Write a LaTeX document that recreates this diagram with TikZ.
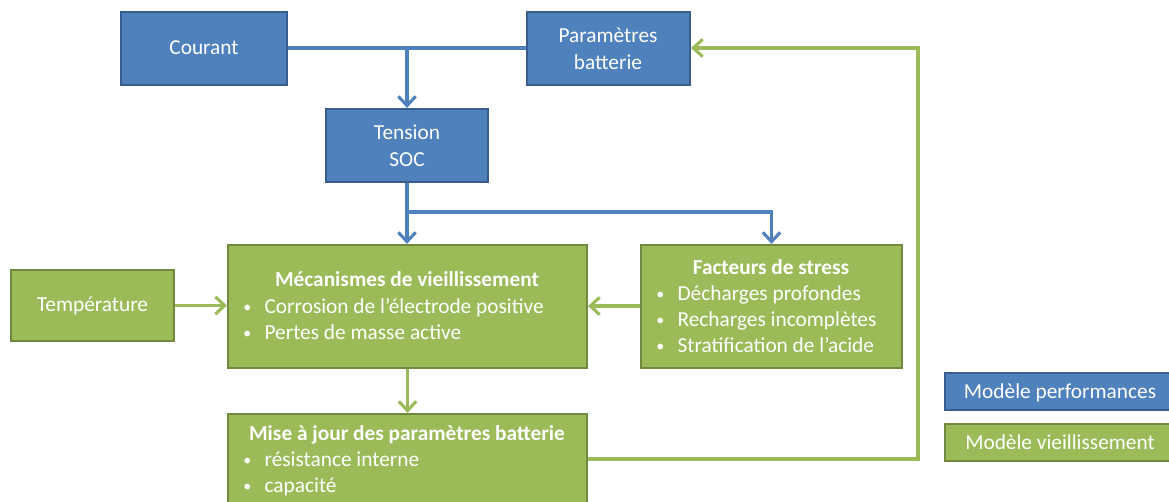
\documentclass[tikz,border=0pt]{standalone}
\usepackage{fontspec}
\setmainfont{Carlito}
\usetikzlibrary{arrows.meta,fit}
\definecolor{bfill}{HTML}{4F81BD}
\definecolor{bdraw}{HTML}{385D8A}
\definecolor{gfill}{HTML}{9BBB59}
\definecolor{gdraw}{HTML}{71893F}
\newcommand\bul{\makebox[16pt][l]{\raisebox{0.5pt}{\fontsize{12}{12}\selectfont•}}}
\begin{document}
\begin{tikzpicture}[x=0.75pt,y=-0.75pt,
  bbox/.style={draw=bdraw,fill=bfill,line width=1.6pt,inner sep=0pt},
  gbox/.style={draw=gdraw,fill=gfill,line width=1.6pt,inner sep=0pt},
  txt/.style={text=white,inner sep=0pt,font=\fontsize{16}{19.5}\selectfont,text height=11.5pt,text depth=2.5pt},
  ttl/.style={txt,font=\fontsize{16}{19.5}\selectfont\bfseries},
  mtxt/.style={text=white,inner sep=0pt,font=\fontsize{16}{20}\selectfont,align=center},
  bline/.style={draw=bfill,line width=2.3pt},
  gline/.style={draw=gfill,line width=2.3pt},
  barrow/.style={bline,-{Straight Barb[length=7pt,width=13pt,line width=2.3pt]}},
  garrow/.style={gline,-{Straight Barb[length=7pt,width=13pt,line width=2.3pt]}}]
\useasboundingbox (0,0) rectangle (1169,502);
% boxes
\node[bbox,fit={(121,12) (287,85)}] (cour) {};
\node[bbox,fit={(527,12) (690,85)}] (par) {};
\node[bbox,fit={(326,109) (488,182)}] (tens) {};
\node[gbox,fit={(228,245) (587,368)}] (meca) {};
\node[gbox,fit={(641,245) (902,368)}] (fact) {};
\node[gbox,fit={(11,270) (174,341)}] (temp) {};
\node[gbox,fit={(228,414) (587,505)}] (mise) {};
\node[bbox,fit={(945,373) (1180,410)}] (legb) {};
\node[gbox,fit={(945,424) (1180,461)}] (legg) {};
% texts
\node[txt] (tcour) at (cour) {Courant};
\node[mtxt] (tpar) at (608,49) {Paramètres\\batterie};
\node[mtxt] (ttens) at (407,146) {Tension\\SOC};
\node[txt] (ttemp) at (temp) {Température};
\node[ttl] (tmeca) at (407,280) {Mécanismes de vieillissement};
\node[txt,anchor=west] (m1) at (243,307) {\bul Corrosion de l’électrode positive};
\node[txt,anchor=west] (m2) at (243,333) {\bul Pertes de masse active};
\node[ttl] (tfact) at (771,268) {Facteurs de stress};
\node[txt,anchor=west] (f1) at (656,294) {\bul Décharges profondes};
\node[txt,anchor=west] (f2) at (656,320) {\bul Recharges incomplètes};
\node[txt,anchor=west] (f3) at (656,346) {\bul Stratification de l’acide};
\node[ttl] (tmise) at (407,434) {Mise à jour des paramètres batterie};
\node[txt,anchor=west] (s1) at (243,460) {\bul résistance interne};
\node[txt,anchor=west] (s2) at (243,486) {\bul capacité};
\node[txt] (tlegb) at (1060,392) {Modèle performances};
\node[txt] (tlegg) at (1060,443) {Modèle vieillissement};
% connectors
\coordinate (j1) at (407,48);
\coordinate (br) at (407,212);
\coordinate (fb1) at (918,459);
\coordinate (fb2) at (918,48);
\draw[bline] (cour.east |- j1) -- (par.west |- j1);
\draw[barrow] (j1) -- (tens.north);
\draw[bline] (tens.south) -- (br);
\draw[barrow] (br) -- (br |- meca.north);
\draw[barrow] (br) -| (fact.north);
\draw[garrow] (temp.east) -- (temp.east -| meca.west);
\draw[garrow] (fact.west |- 0,306) -- (meca.east |- 0,306);
\draw[garrow] (meca.south) -- (mise.north);
\draw[garrow] (mise.east |- fb1) -- (fb1) -- (fb2) -- (par.east |- fb2);
\end{tikzpicture}
\end{document}
